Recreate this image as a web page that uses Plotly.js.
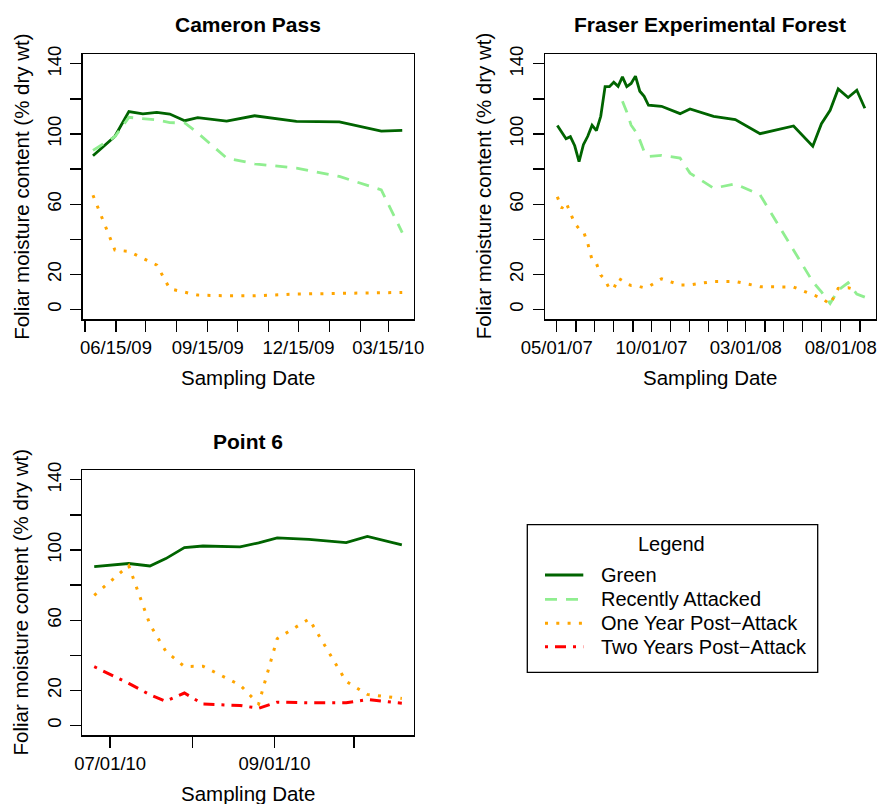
<!DOCTYPE html>
<html>
<head>
<meta charset="utf-8">
<script src="https://cdn.plot.ly/plotly-3.0.1.min.js"></script>
<style>html,body{margin:0;padding:0;background:#fff}#chart{width:877px;height:804px}</style>
</head>
<body>
<div id="chart"></div>
<script>
// ---------- DATA ----------
const seriesNames = ['Green', 'Recently Attacked', 'One Year Post\u2212Attack', 'Two Years Post\u2212Attack'];
const panelTitles = ['Cameron Pass', 'Fraser Experimental Forest', 'Point 6'];

// Cameron Pass
const camDates = ['2009-05-23','2009-06-14','2009-06-28','2009-07-12','2009-07-26','2009-08-08','2009-08-23','2009-09-05','2009-10-04','2009-11-01','2009-12-13','2010-01-25','2010-03-08','2010-03-29'];
const camGreen = [87.6, 98.7, 112.8, 111.5, 112.3, 111.4, 107.6, 109.3, 107.4, 110.4, 107.2, 106.9, 101.7, 102.1];
const camRecent = [90.7, 98.5, 109.5, 108.8, 108, 106.5, 106.3, 100.6, 86.3, 83, 80.6, 75.8, 68.2, 43.8];
const camOneYear = [65.1, 33.9, 33.1, 29, 25.3, 11.8, 9.8, 8.2, 7.8, 7.8, 8.8, 9.1, 9.5, 9.7];
const camTickVals = ['2009-05-15','2009-06-15','2009-07-15','2009-08-15','2009-09-15','2009-10-15','2009-11-15','2009-12-15','2010-01-15','2010-02-15','2010-03-15'];
const camTickText = ['','06/15/09','','','09/15/09','','','12/15/09','','','03/15/10'];

// Fraser Experimental Forest
const fraDates = ['2007-05-02','2007-05-09','2007-05-16','2007-05-23','2007-05-30','2007-06-06','2007-06-13','2007-06-20','2007-06-27','2007-07-04','2007-07-11','2007-07-18','2007-07-25','2007-08-01','2007-08-08','2007-08-15','2007-08-22','2007-08-29','2007-09-05','2007-09-12','2007-09-19','2007-09-26','2007-10-17','2007-11-16','2007-12-02','2008-01-09','2008-02-13','2008-03-24','2008-05-17','2008-06-17','2008-07-01','2008-07-15','2008-07-28','2008-08-13','2008-08-27','2008-09-09'];
const fraGreen = [104.8, 101, 97.3, 98.5, 93.3, 84.2, 93.9, 98.7, 105, 101.9, 110.1, 127, 127, 129.5, 127.2, 132.6, 127, 128.8, 133, 124.4, 121.5, 116.4, 115.8, 111.6, 114.3, 110.1, 108.2, 100.2, 104.6, 93, 105.9, 113.5, 125.7, 120.8, 125, 114.7];
const fraRecent = [null, null, null, null, null, null, null, null, null, null, null, null, null, null, null, 118.7, 112.6, 105, 101.5, 96.5, 90, 87.2, 87.8, 86.3, 77.7, 69.1, 71.6, 65.3, 34, 15.8, 10, 3.4, 11, 15.2, 8.8, 7];
const fraOneYear = [64.2, 57.7, 61, 54.9, 49.1, 46, 44.6, 37.7, 28.2, 26.3, 19.6, 16.8, 11.8, 11.8, 17.9, 16.4, 14.5, 13.7, 13.7, 13, 12.4, 13, 17.5, 14, 14, 16, 16, 13, 12.8, 8.4, 6.5, 3, 12, 12.4, 11, null];
const fraTickVals = ['2007-05-01','2007-06-01','2007-07-01','2007-08-01','2007-09-01','2007-10-01','2007-11-01','2007-12-01','2008-01-01','2008-02-01','2008-03-01','2008-04-01','2008-05-01','2008-06-01','2008-07-01','2008-08-01','2008-09-01'];
const fraTickText = ['05/01/07','','','','','10/01/07','','','','','03/01/08','','','','','08/01/08',''];

// Point 6
const p6Dates = ['2010-06-25','2010-07-08','2010-07-16','2010-07-22','2010-07-29','2010-08-05','2010-08-19','2010-08-26','2010-09-02','2010-09-14','2010-09-28','2010-10-06','2010-10-19'];
const p6Green = [90.5, 92.3, 90.9, 95.1, 101.4, 102.3, 101.8, 104.1, 106.9, 106.1, 104.2, 107.7, 102.9];
const p6OneYear = [74.2, 91.1, 57.5, 42.3, 33.6, 33.8, 23, 12.3, 49.5, 60.7, 25.1, 17.7, 15.4];
const p6TwoYears = [33.5, 24, 17.5, 13.8, 18.5, 12.2, 11.4, 9.8, 13.3, 12.9, 12.9, 14.8, 12.7];
const p6TickVals = ['2010-07-01','2010-08-01','2010-09-01','2010-10-01'];
const p6TickText = ['07/01/10','','09/01/10',''];

const yTickVals = [0, 20, 40, 60, 80, 100, 120, 140];
const yTickText = ['0', '20', '', '60', '', '100', '', '140'];

// ---------- STYLE ----------
const W = 877, H = 804;
const FONT = 'Liberation Sans, Arial, Helvetica, sans-serif';
const styles = [
  {color: '#006400', width: 2.8, dash: 'solid'},
  {color: '#90EE90', width: 2.8, dash: '12px,9px'},
  {color: '#FFA500', width: 3, dash: '3px,8.3px'},
  {color: '#FF0000', width: 3, dash: '3px,7px,11px,7px'}
];
function px(x) { return x / W; }
function py(y) { return 1 - y / H; }

function tr(x, y, si, ax) {
  return {x: x, y: y, type: 'scatter', mode: 'lines', name: seriesNames[si], showlegend: false,
    xaxis: 'x' + ax, yaxis: 'y' + ax, hoverinfo: 'skip',
    line: {color: styles[si].color, width: styles[si].width, dash: styles[si].dash}};
}

const data = [
  tr(camDates, camGreen, 0, ''), tr(camDates, camRecent, 1, ''), tr(camDates, camOneYear, 2, ''),
  tr(fraDates, fraGreen, 0, '2'), tr(fraDates, fraRecent, 1, '2'), tr(fraDates, fraOneYear, 2, '2'),
  tr(p6Dates, p6Green, 0, '3'), tr(p6Dates, p6OneYear, 2, '3'), tr(p6Dates, p6TwoYears, 3, '3')
];

// panel boxes in pixels
const boxes = [
  {l: 82.7, r: 414, t: 54, b: 319.3},
  {l: 545, r: 875.7, t: 54, b: 319.3},
  {l: 82.3, r: 414, t: 470, b: 735.3}
];

function xax(box, range, tv, tt) {
  return {type: 'date', domain: [px(box.l), px(box.r)], range: range, tickvals: tv, ticktext: tt,
    showline: true, mirror: true, linecolor: '#000', linewidth: 1.3, ticks: 'outside', ticklen: 11,
    tickwidth: 1.3, tickcolor: '#000', showgrid: false, zeroline: false, tickangle: 0,
    tickfont: {family: FONT, size: 18.5, color: '#000'}, fixedrange: true};
}
function yax(box, anchor) {
  return {domain: [py(box.b), py(box.t)], range: [-5.6, 145.6], tickvals: yTickVals, ticktext: yTickText,
    anchor: anchor, showline: true, mirror: true, linecolor: '#000', linewidth: 1.3, ticks: 'outside', ticklen: 11,
    tickwidth: 1.3, tickcolor: '#000', showgrid: false, zeroline: false, tickangle: -90, ticklabelstandoff: 2,
    tickfont: {family: FONT, size: 18.5, color: '#000'}, fixedrange: true};
}

const layout = {
  width: W, height: H, margin: {l: 0, r: 0, t: 0, b: 0}, paper_bgcolor: '#fff', plot_bgcolor: '#fff',
  showlegend: false, font: {family: FONT, color: '#000'},
  xaxis: Object.assign(xax(boxes[0], ['2009-05-12 17:00', '2010-04-09 19:00'], camTickVals, camTickText), {anchor: 'y'}),
  yaxis: yax(boxes[0], 'x'),
  xaxis2: Object.assign(xax(boxes[1], ['2007-04-12 02:00', '2008-09-26 12:00'], fraTickVals, fraTickText), {anchor: 'y2'}),
  yaxis2: yax(boxes[1], 'x2'),
  xaxis3: Object.assign(xax(boxes[2], ['2010-06-20 12:00', '2010-10-23 14:00'], p6TickVals, p6TickText), {anchor: 'y3'}),
  yaxis3: yax(boxes[2], 'x3'),
  annotations: [],
  shapes: []
};

function ann(text, x, y, size, opts) {
  return Object.assign({text: text, x: px(x), y: py(y), xref: 'paper', yref: 'paper', showarrow: false,
    xanchor: 'center', yanchor: 'middle', font: {family: FONT, size: size, color: '#000'}}, opts || {});
}

boxes.forEach(function (b, i) {
  const cx = (b.l + b.r) / 2, cy = (b.t + b.b) / 2;
  layout.annotations.push(ann('<b>' + panelTitles[i] + '</b>', cx, b.t - 29, 21));
  layout.annotations.push(ann('Sampling Date', cx, b.b + 58.5, 20.5));
  layout.annotations.push(ann('Foliar moisture content (% dry wt)', b.l - 61.5, cy, 20.5, {textangle: -90}));
});

// legend box
const leg = {l: 527.3, r: 817.7, t: 524.7, b: 672.3};
layout.shapes.push({type: 'rect', xref: 'paper', yref: 'paper', x0: px(leg.l), x1: px(leg.r), y0: py(leg.b), y1: py(leg.t),
  line: {color: '#000', width: 1.3}, fillcolor: 'rgba(0,0,0,0)'});
layout.annotations.push(ann('Legend', 671.7, 544, 20));
const legY = [575, 599.3, 623.3, 646.7];
seriesNames.forEach(function (n, i) {
  layout.shapes.push({type: 'line', xref: 'paper', yref: 'paper', x0: px(545), x1: px(583.3), y0: py(legY[i]), y1: py(legY[i]),
    line: {color: styles[i].color, width: styles[i].width, dash: styles[i].dash}});
  layout.annotations.push(ann(n, 599.2, legY[i], 20, {xanchor: 'left'}));
});

Plotly.newPlot('chart', data, layout, {displayModeBar: false, staticPlot: true});
</script>
</body>
</html>
